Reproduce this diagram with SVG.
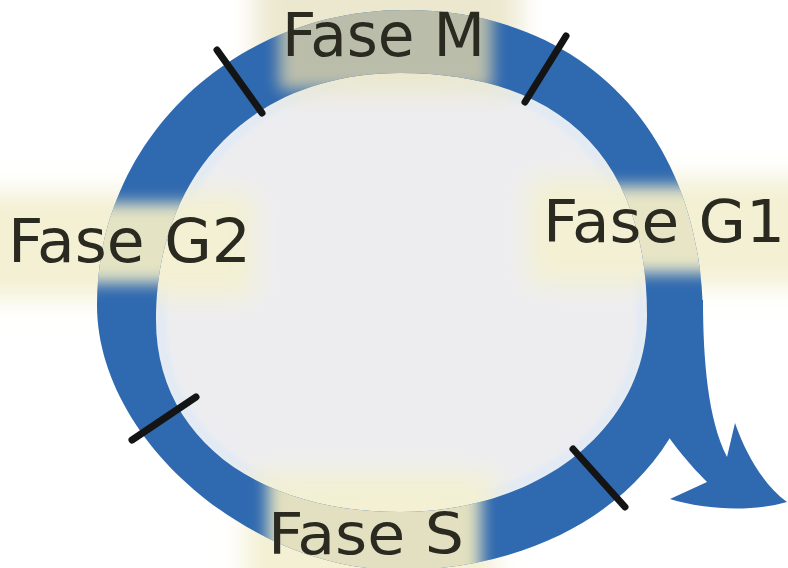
<svg xmlns="http://www.w3.org/2000/svg" width="788" height="568" viewBox="0 0 788 568">
  <style>
    .ring { fill: #2f69b0; }
    .tick { stroke: #141414; stroke-width: 7; stroke-linecap: round; fill: none; }
    .label { font-family: "DejaVu Sans Condensed", "DejaVu Sans", "Liberation Sans", sans-serif; font-stretch: condensed; fill: #2a2a20; }
    .glow { fill: #f3f0d3; filter: url(#blurBig); }
  </style>
  <defs>
    <filter id="blurBig" filterUnits="userSpaceOnUse" x="-100" y="-100" width="1000" height="800">
      <feGaussianBlur stdDeviation="13"/>
    </filter>
    <filter id="blurMid" filterUnits="userSpaceOnUse" x="-100" y="-100" width="1000" height="800">
      <feGaussianBlur stdDeviation="8"/>
    </filter>
    <filter id="blurSmall" filterUnits="userSpaceOnUse" x="-100" y="-100" width="1000" height="800">
      <feGaussianBlur stdDeviation="3"/>
    </filter>
    <clipPath id="ringClip">
      <path clip-rule="evenodd" d="M 405 10 C 584 10, 703 134, 703 320 C 703 464, 573 570, 400 570 C 248.5 570, 97 438.5, 97 305 C 97 140, 233 10, 405 10 Z M 400 73 C 560.5 73, 647 158, 647 315 C 647 427, 540 512, 400 512 C 253.6 512, 156 435, 156 320 C 156 172, 253.6 73, 400 73 Z"/>
    </clipPath>
  </defs>

  <rect x="0" y="0" width="788" height="568" fill="#ffffff"/>

  <!-- interior -->
  <path d="M 400 73 C 560.5 73, 647 158, 647 315 C 647 427, 540 512, 400 512 C 253.6 512, 156 435, 156 320 C 156 172, 253.6 73, 400 73 Z" fill="#ededf0"/>
  <path d="M 400 78 C 557 78, 642 160, 642 315 C 642 424, 538 507, 400 507 C 256 507, 161 432, 161 320 C 161 174, 256 78, 400 78 Z" fill="none" stroke="#dfe9f5" stroke-width="8" filter="url(#blurSmall)"/>

  <!-- background glows behind labels -->
  <g id="glows">
    <rect class="glow" x="-40" y="192" width="295" height="106"/>
    <rect class="glow" x="528" y="178" width="300" height="108"/>
    <rect class="glow" x="245" y="472" width="250" height="130"/>
    <rect x="255" y="-30" width="265" height="125" fill="#ece8cf" filter="url(#blurBig)"/>
  </g>

  <!-- ring and exit arrow -->
  <g id="cycle">
    <path class="ring" fill-rule="evenodd" d="M 405 10 C 584 10, 703 134, 703 320 C 703 464, 573 570, 400 570 C 248.5 570, 97 438.5, 97 305 C 97 140, 233 10, 405 10 Z M 400 73 C 560.5 73, 647 158, 647 315 C 647 427, 540 512, 400 512 C 253.6 512, 156 435, 156 320 C 156 172, 253.6 73, 400 73 Z"/>
    <path id="exit-arrow" class="ring" d="M 690 300 L 703 300 C 703 360, 708 420, 727 457 L 735 423 C 746 455, 764 485, 787 502 C 752 512, 706 510, 670 499 L 707 482 C 690 465, 676 448, 660 425 Z"/>
  </g>

  <!-- ring tinted under labels -->
  <g clip-path="url(#ringClip)">
    <rect x="279" y="-10" width="213" height="100" fill="#c6c4ab" opacity="0.93" filter="url(#blurMid)"/>
    <rect x="40" y="203" width="180" height="80" fill="#e4e3c3" filter="url(#blurMid)"/>
    <rect x="560" y="186" width="180" height="87" fill="#e7e5c5" filter="url(#blurMid)"/>
    <rect x="268" y="450" width="213" height="140" fill="#e2e0c0" filter="url(#blurMid)"/>
  </g>

  <!-- connectors: checkpoint ticks -->
  <g id="ticks">
    <line class="tick" x1="217" y1="50" x2="262" y2="113"/>
    <line class="tick" x1="566" y1="36" x2="525" y2="102"/>
    <line class="tick" x1="132" y1="440" x2="196" y2="397"/>
    <line class="tick" x1="573" y1="449" x2="625" y2="507"/>
  </g>

  <g id="node-m"><text class="label" x="282" y="56" font-size="60" textLength="203" lengthAdjust="spacingAndGlyphs">Fase M</text></g>
  <g id="node-g1"><text class="label" x="543" y="242" font-size="59" textLength="242" lengthAdjust="spacingAndGlyphs">Fase G1</text></g>
  <g id="node-s"><text class="label" x="268" y="554" font-size="57" textLength="196" lengthAdjust="spacingAndGlyphs">Fase S</text></g>
  <g id="node-g2"><text class="label" x="8" y="262" font-size="61" textLength="243" lengthAdjust="spacingAndGlyphs">Fase G2</text></g>
</svg>
